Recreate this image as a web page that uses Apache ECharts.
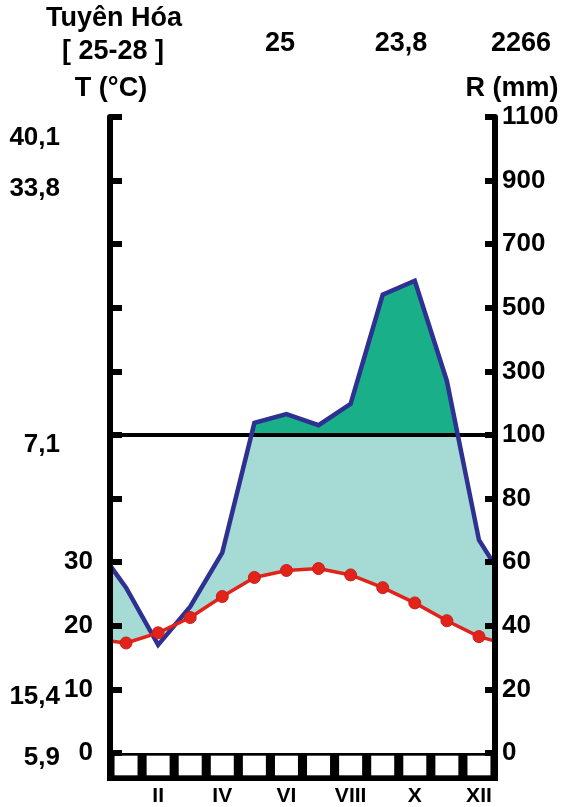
<!DOCTYPE html>
<html>
<head>
<meta charset="utf-8">
<script src="https://cdn.jsdelivr.net/npm/echarts@6/dist/echarts.min.js"></script>
<style>
html,body{margin:0;padding:0;background:#fff;}
#chart{width:565px;height:807px;}
</style>
</head>
<body>
<div id="chart"></div>
<script>
// ---- data ----
const months = ['I','II','III','IV','V','VI','VII','VIII','IX','X','XI','XII'];
const rain = [52, 34, 46, 63, 138, 166, 131, 198, 541, 585, 270, 67];      // mm
const temp = [17.3, 18.9, 21.3, 24.6, 27.6, 28.7, 29.0, 28.0, 26.0, 23.6, 20.8, 18.3]; // °C
const rainEdge = 59;   // value of rain curve at the diagram edges
const tempEdge = 17.6; // value of temperature curve at the diagram edges
const rainTicks = [0, 20, 40, 60, 80, 100, 300, 500, 700, 900, 1100];
const tempTicks = [0, 10, 20, 30];
const extremes = [
  {text: '40,1', y: 138},
  {text: '33,8', y: 189},
  {text: '7,1',  y: 445},
  {text: '15,4', y: 697},
  {text: '5,9',  y: 758}
];
const station = 'Tuyên Hóa';
const period = '[ 25-28 ]';
const altitude = '25';
const meanTemp = '23,8';
const totalRain = '2266';

// ---- scale transforms (Walter-Lieth: 10 °C = 20 mm, above 100 mm compressed 1:10) ----
const rd = p => p <= 100 ? p : 100 + (p - 100) / 10;
const td = t => t * 2;
const invR = d => d <= 100 ? d : 100 + (d - 100) * 10;

const rainPts = [[0, rd(rainEdge)]].concat(rain.map((v, i) => [i + 0.5, rd(v)])).concat([[12, rd(rainEdge)]]);
const tempPts = [[0, td(tempEdge)]].concat(temp.map((v, i) => [i + 0.5, td(v)])).concat([[12, td(tempEdge)]]);

// rain curve clamped at 100 mm (crossings computed from the segments)
const clamped = [];
for (let i = 0; i < rainPts.length; i++) {
  const a = rainPts[i];
  clamped.push([a[0], Math.min(a[1], 100)]);
  if (i < rainPts.length - 1) {
    const b = rainPts[i + 1];
    if ((a[1] - 100) * (b[1] - 100) < 0) {
      const x = a[0] + (100 - a[1]) / (b[1] - a[1]) * (b[0] - a[0]);
      clamped.push([x, 100]);
    }
  }
}

const FONT = 'Liberation Sans, Arial, sans-serif';
const chart = echarts.init(document.getElementById('chart'), null, {renderer: 'canvas'});

const txt = (s, x, y, align, size) => ({
  type: 'text', x: x, y: y, z: 100,
  style: {text: s, font: 'bold ' + (size || 27) + 'px ' + FONT, fill: '#000',
          textAlign: align || 'center', textVerticalAlign: 'middle'}
});

const graphics = [
  txt(station, 114, 19),
  txt(period, 113, 52),
  txt('T (\u00B0C)', 111, 89),
  txt(altitude, 280, 44),
  txt(meanTemp, 401, 44),
  txt(totalRain, 521, 44),
  txt('R (mm)', 512, 89)
].concat(extremes.map(e => txt(e.text, 60, e.y, 'right', 26)));

const option = {
  animation: false,
  backgroundColor: '#fff',
  grid: [
    {left: 110, width: 385, top: 117, height: 636},
    {left: 110, width: 385, top: 753, height: 28, show: true, backgroundColor: '#000', borderColor: '#000', borderWidth: 6}
  ],
  xAxis: [
    {type: 'value', gridIndex: 0, min: 0, max: 12, show: false},
    {type: 'category', gridIndex: 1, data: months,
     axisLine: {show: false}, axisTick: {show: false},
     axisLabel: {interval: (i) => i % 2 === 1, margin: 8, color: '#000', fontFamily: FONT, fontWeight: 'bold', fontSize: 21}}
  ],
  yAxis: [
    {type: 'value', gridIndex: 0, position: 'left', min: 0, max: 200, interval: 20, z: 10,
     splitLine: {show: false},
     axisLine: {show: true, lineStyle: {color: '#000', width: 6}},
     axisTick: {show: true, inside: true, length: 12, lineStyle: {color: '#000', width: 6}},
     axisLabel: {margin: 17, color: '#000', fontFamily: FONT, fontWeight: 'bold', fontSize: 26,
                 formatter: v => tempTicks.indexOf(v / 2) >= 0 ? String(v / 2) : ''}},
    {type: 'value', gridIndex: 0, position: 'right', min: 0, max: 200, interval: 20, z: 10,
     splitLine: {show: false},
     axisLine: {show: true, lineStyle: {color: '#000', width: 6}},
     axisTick: {show: true, inside: true, length: 10, lineStyle: {color: '#000', width: 6}},
     axisLabel: {margin: 7, color: '#000', fontFamily: FONT, fontWeight: 'bold', fontSize: 26,
                 formatter: v => rainTicks.indexOf(Math.round(invR(v))) >= 0 ? String(Math.round(invR(v))) : ''}},
    {type: 'value', gridIndex: 1, min: -3 / 22, max: 1 + 3 / 22, show: false}
  ],
  series: [
    {type: 'line', name: 'rainFill', xAxisIndex: 0, yAxisIndex: 0, data: rainPts, symbol: 'none',
     lineStyle: {width: 0}, areaStyle: {color: '#19b089', opacity: 1}, z: 1, silent: true},
    {type: 'line', name: 'humidFill', xAxisIndex: 0, yAxisIndex: 0, data: clamped, symbol: 'none',
     lineStyle: {width: 0}, areaStyle: {color: '#a6dbd5', opacity: 1}, z: 2, silent: true},
    {type: 'line', name: 'tempFill', xAxisIndex: 0, yAxisIndex: 0, data: tempPts, symbol: 'none',
     lineStyle: {width: 0}, areaStyle: {color: '#ffffff', opacity: 1}, z: 3, silent: true},
    {type: 'line', name: 'line100', xAxisIndex: 0, yAxisIndex: 0, data: [[0, 100], [12, 100]], symbol: 'none',
     lineStyle: {color: '#000', width: 4}, z: 4, silent: true},
    {type: 'line', name: 'rain', xAxisIndex: 0, yAxisIndex: 0, data: rainPts, symbol: 'none',
     lineStyle: {color: '#2e3192', width: 4.5, join: 'miter'}, z: 5},
    {type: 'line', name: 'temp', xAxisIndex: 0, yAxisIndex: 0,
     data: tempPts.map((p, i) => ({value: p, symbolSize: (i === 0 || i === tempPts.length - 1) ? 0 : 12})),
     symbol: 'circle', showSymbol: true,
     lineStyle: {color: '#e2231a', width: 3.5},
     itemStyle: {color: '#e2231a', borderColor: '#c81e1e', borderWidth: 1}, z: 6},
    {type: 'bar', name: 'monthBoxes', xAxisIndex: 1, yAxisIndex: 2, data: months.map(() => 1),
     barWidth: 23, itemStyle: {color: '#fff'}, silent: true}
  ],
  graphic: graphics
};
chart.setOption(option);
</script>
</body>
</html>
